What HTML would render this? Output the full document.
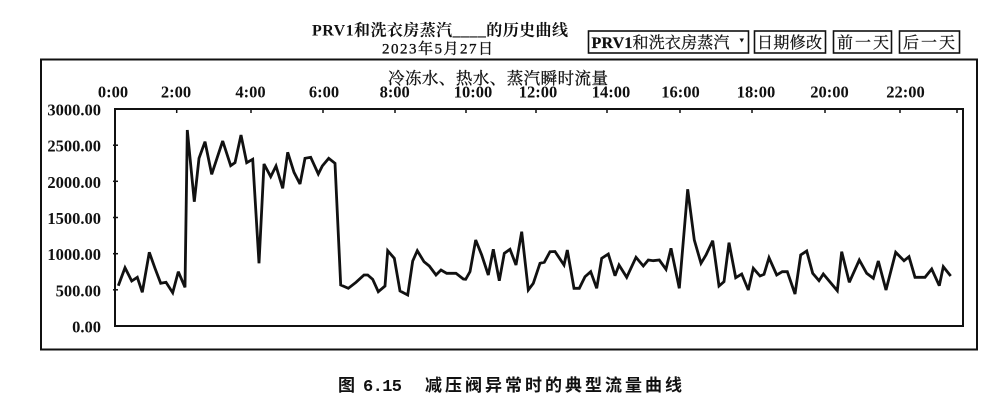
<!DOCTYPE html>
<html><head><meta charset="utf-8"><style>
html,body{margin:0;padding:0;background:#fff;}
svg{display:block;}
.s{font-family:"Liberation Serif","Noto Serif CJK SC",serif;}
</style></head><body>
<svg width="1000" height="408" viewBox="0 0 1000 408" xmlns="http://www.w3.org/2000/svg">
<rect width="1000" height="408" fill="#fff"/>
<!-- header titles -->
<text class="s" x="312" y="35.5" font-size="16" font-weight="bold" textLength="256" lengthAdjust="spacing" fill="#111">PRV1和洗衣房蒸汽____的历史曲线</text>
<text class="s" x="382" y="53.5" font-size="15" textLength="111" lengthAdjust="spacing" fill="#111" stroke="#111" stroke-width="0.35">2023年5月27日</text>
<!-- controls -->
<g fill="none" stroke="#111" stroke-width="1.6">
<rect x="588.5" y="31" width="160" height="22"/>
<rect x="754.5" y="31" width="71" height="22"/>
<rect x="833.5" y="31" width="58" height="22"/>
<rect x="899.5" y="31" width="60" height="22"/>
</g>
<text class="s" x="591.5" y="48" font-size="16" textLength="138" lengthAdjust="spacing" fill="#111" stroke="#111" stroke-width="0.25"><tspan font-weight="bold">PRV1</tspan>和洗衣房蒸汽</text>
<path d="M739.5 38.5 L744 38.5 L741.75 42.5 Z" fill="#111"/>
<text class="s" x="757" y="48" font-size="16" textLength="65" lengthAdjust="spacing" fill="#111" stroke="#111" stroke-width="0.25">日期修改</text>
<text class="s" x="837" y="48" font-size="16" textLength="52" lengthAdjust="spacing" fill="#111" stroke="#111" stroke-width="0.25">前一天</text>
<text class="s" x="903" y="48" font-size="16" textLength="52" lengthAdjust="spacing" fill="#111" stroke="#111" stroke-width="0.25">后一天</text>
<!-- outer frame -->
<rect x="41" y="59.5" width="936" height="290" fill="none" stroke="#111" stroke-width="2"/>
<!-- chart title -->
<text class="s" x="388" y="84" font-size="16.5" textLength="220" lengthAdjust="spacing" fill="#111" stroke="#111" stroke-width="0.3">冷冻水、热水、蒸汽瞬时流量</text>
<!-- x labels -->
<g class="s" font-size="16.5" font-weight="bold" fill="#111" text-anchor="middle">
<text x="113" y="97.5">0:00</text>
<text x="176" y="97.5">2:00</text>
<text x="250.5" y="97.5">4:00</text>
<text x="324" y="97.5">6:00</text>
<text x="394.7" y="97.5">8:00</text>
<text x="473" y="97.5">10:00</text>
<text x="538" y="97.5">12:00</text>
<text x="611" y="97.5">14:00</text>
<text x="680.5" y="97.5">16:00</text>
<text x="756" y="97.5">18:00</text>
<text x="829.5" y="97.5">20:00</text>
<text x="905.5" y="97.5">22:00</text>
</g>
<!-- y labels -->
<g class="s" font-size="16.5" font-weight="bold" fill="#111" text-anchor="end">
<text x="101" y="115.5">3000.00</text>
<text x="101" y="151.7">2500.00</text>
<text x="101" y="187.8">2000.00</text>
<text x="101" y="224">1500.00</text>
<text x="101" y="260.2">1000.00</text>
<text x="101" y="296.3">500.00</text>
<text x="101" y="332.5">0.00</text>
</g>
<!-- plot frame -->
<rect x="115" y="109" width="848" height="217" fill="none" stroke="#111" stroke-width="2"/>
<!-- ticks -->
<g stroke="#111" stroke-width="1.5">
<line x1="176.7" y1="109" x2="176.7" y2="113"/>
<line x1="251" y1="109" x2="251" y2="113"/>
<line x1="323" y1="109" x2="323" y2="113"/>
<line x1="395" y1="109" x2="395" y2="113"/>
<line x1="466" y1="109" x2="466" y2="113"/>
<line x1="536" y1="109" x2="536" y2="113"/>
<line x1="607" y1="109" x2="607" y2="113"/>
<line x1="680" y1="109" x2="680" y2="113"/>
<line x1="752" y1="109" x2="752" y2="113"/>
<line x1="825" y1="109" x2="825" y2="113"/>
<line x1="900" y1="109" x2="900" y2="113"/>
<line x1="957" y1="109" x2="957" y2="113"/>
<line x1="113" y1="145.2" x2="118" y2="145.2"/>
<line x1="113" y1="181.3" x2="118" y2="181.3"/>
<line x1="113" y1="217.5" x2="118" y2="217.5"/>
<line x1="113" y1="253.7" x2="118" y2="253.7"/>
<line x1="113" y1="289.8" x2="118" y2="289.8"/>
</g>
<!-- data -->
<polyline fill="none" stroke="#111" stroke-width="2.8" stroke-linejoin="miter" stroke-miterlimit="3" points="
118.3,285.7 125,267.7 131.7,281 137.3,277.3 142.3,292.3 149.3,252.3 155,268.3 160.7,283.3 166,282.3 172.7,292.7 178.3,271.7 185,287.3
187.3,130 194.3,201.7 199,158.3 205,141.7 211.7,174.3 217.3,157.3 222.7,141 230.7,165.7 235,162.7 241,135 246.7,162.7 252.7,159.3
259,263.3 264,164 270.7,176.7 276,166 282.7,188.3 287.7,152.3 294,172.3 300,184 305,158.3 310.7,157.3 318.3,174 322.3,166 328.7,158.3 335,163.3
340.7,285 348.3,288.3 356,282.3 364,275 367.7,275 372.7,279.3 378.3,291.7 385,286 387.7,250.7 394.3,258.3 400,291 407.7,295
412.7,261 417.3,250.7 424,261.7 429.3,266 436,275 441,270 446.7,273.3 456,273.3 463.3,279 465.7,279.3 470,271.7 475.7,240
481.7,255 488.3,275 493.3,249.3 499.3,280.7 504.3,253.3 510,249.3 516,265 521.7,231.7 528.3,290 533.3,283.3 540,263.3 544.3,262.3
550,251.7 555,251.5 564,265 567.3,250 574,288.3 579.3,288.3 585,276.7 590.7,271.7 596.7,288.3 601.7,258.3 608.3,254 615,275.7
619,265 626.7,277.3 636,257.3 643.3,266 648.3,260 653.3,260.7 659.3,260 666,269.3 671,248.3 679.3,288.3 687.7,189.3 694.3,240
701,263.3 706,255 712.7,240.7 719,286 724,281.7 729,242.7 735.7,277.7 741.7,274 748.3,290 753.3,268.3 760,276 764,274.3
769,257.7 776.7,275 782.3,271.7 787.3,271.7 795,294 800.7,255 806.7,251 812.7,273.3 819,280.7 823.3,274 837.3,290.7 841.7,251.7
849.3,282.3 859.3,260 866.7,273.3 873.3,278.3 878.3,261 886,290 895.7,252.3 904,260.7 909,256.7 915,277.3 925,277.3 931.7,269
939.3,285.7 943.3,266.7 950.7,276"/>
<!-- caption -->
<text x="338" y="391" font-size="17" font-weight="bold" font-family="'Liberation Sans','Noto Sans CJK SC',sans-serif" fill="#111">图</text>
<text x="363" y="391" font-size="17" font-weight="bold" font-family="'Liberation Mono',monospace" textLength="39" lengthAdjust="spacing" fill="#111">6.15</text>
<text x="425" y="391" font-size="17" font-weight="bold" font-family="'Liberation Sans','Noto Sans CJK SC',sans-serif" textLength="257" lengthAdjust="spacing" fill="#111">减压阀异常时的典型流量曲线</text>
</svg>
</body></html>
